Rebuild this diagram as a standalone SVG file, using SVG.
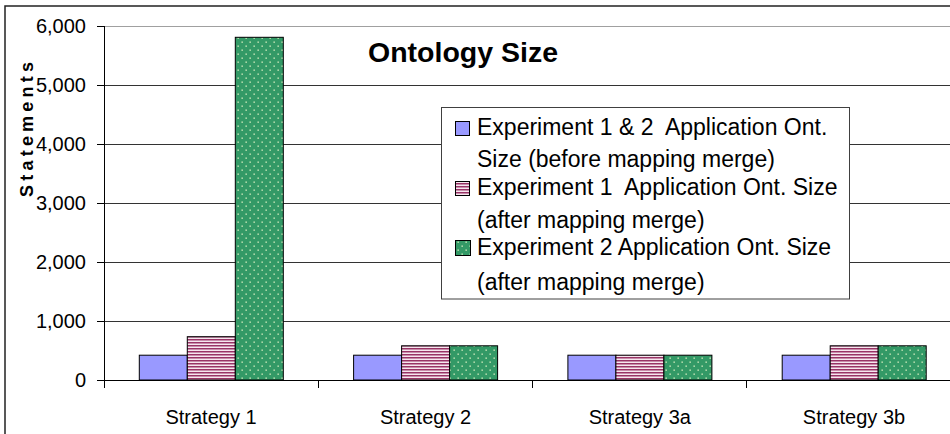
<svg xmlns="http://www.w3.org/2000/svg" width="950" height="434" viewBox="0 0 950 434">
<defs>
<pattern id="stripes" patternUnits="userSpaceOnUse" width="6" height="3">
<rect width="6" height="3" fill="#f6e6ee"/>
<rect width="6" height="1.5" fill="#993366"/>
</pattern>
<pattern id="dots" patternUnits="userSpaceOnUse" width="8" height="8">
<rect width="8" height="8" fill="#339966"/>
<rect x="1.5" y="1.5" width="1.3" height="1.3" fill="#e6f7c8"/>
<rect x="5.5" y="5.5" width="1.3" height="1.3" fill="#e6f7c8"/>
</pattern>
<style>
text{font-family:"Liberation Sans",Arial,sans-serif;fill:#000}
.ax{font-size:20px;text-anchor:end}
.cat{font-size:20px;text-anchor:middle}
.leg{font-size:23px;white-space:pre}
.grid{stroke:#333;stroke-width:1}
.blue{fill:#9999ff;stroke:#000;stroke-width:1}
.pink{fill:url(#stripes);stroke:#000;stroke-width:1}
.green{fill:url(#dots);stroke:#000;stroke-width:1}
</style>
</defs>
<rect width="950" height="434" fill="#fff"/>
<rect x="5" y="6" width="960" height="440" fill="none" stroke="#222" stroke-width="1.5"/>

<g id="gridlines">
<line x1="104" y1="26.5" x2="950" y2="26.5" stroke="#a0a0a0"/>
<line class="grid" x1="104" y1="85.5" x2="950" y2="85.5"/>
<line class="grid" x1="104" y1="144.5" x2="950" y2="144.5"/>
<line class="grid" x1="104" y1="203.5" x2="950" y2="203.5"/>
<line class="grid" x1="104" y1="262.5" x2="950" y2="262.5"/>
<line class="grid" x1="104" y1="321.5" x2="950" y2="321.5"/>
</g>

<g id="title"><text x="368" y="62" font-size="28.5" font-weight="bold">Ontology Size</text></g>

<g id="bars">
<rect class="blue" x="139.3" y="355.2" width="48" height="24.8"/>
<rect class="pink" x="187.3" y="336.7" width="48" height="43.3"/>
<rect class="green" x="235.3" y="37.3" width="48" height="342.7"/>

<rect class="blue" x="353.6" y="355.2" width="48" height="24.8"/>
<rect class="pink" x="401.6" y="345.8" width="48" height="34.2"/>
<rect class="green" x="449.6" y="345.8" width="48" height="34.2"/>

<rect class="blue" x="567.9" y="355.2" width="48" height="24.8"/>
<rect class="pink" x="615.9" y="355.2" width="48" height="24.8"/>
<rect class="green" x="663.9" y="355.2" width="48" height="24.8"/>

<rect class="blue" x="782.2" y="355.2" width="48" height="24.8"/>
<rect class="pink" x="830.2" y="345.8" width="48" height="34.2"/>
<rect class="green" x="878.2" y="345.8" width="48" height="34.2"/>
</g>

<g id="axes" stroke="#000" stroke-width="1">
<line x1="104.5" y1="26" x2="104.5" y2="388"/>
<line x1="104" y1="380.5" x2="950" y2="380.5"/>
<line x1="97" y1="26.5" x2="104" y2="26.5"/>
<line x1="97" y1="85.5" x2="104" y2="85.5"/>
<line x1="97" y1="144.5" x2="104" y2="144.5"/>
<line x1="97" y1="203.5" x2="104" y2="203.5"/>
<line x1="97" y1="262.5" x2="104" y2="262.5"/>
<line x1="97" y1="321.5" x2="104" y2="321.5"/>
<line x1="97" y1="380.5" x2="104" y2="380.5"/>
<line x1="318.5" y1="380" x2="318.5" y2="388"/>
<line x1="532.5" y1="380" x2="532.5" y2="388"/>
<line x1="746.5" y1="380" x2="746.5" y2="388"/>
</g>

<g id="y-labels">
<text class="ax" x="86" y="33">6,000</text>
<text class="ax" x="86" y="92">5,000</text>
<text class="ax" x="86" y="151">4,000</text>
<text class="ax" x="86" y="210">3,000</text>
<text class="ax" x="86" y="269">2,000</text>
<text class="ax" x="86" y="328">1,000</text>
<text class="ax" x="86" y="387">0</text>
<text transform="translate(33,129.5) rotate(-90)" font-size="18" font-weight="bold" text-anchor="middle" textLength="135" lengthAdjust="spacing">Statements</text>
</g>

<g id="x-labels">
<text class="cat" x="211" y="424">Strategy 1</text>
<text class="cat" x="425.5" y="424">Strategy 2</text>
<text class="cat" x="639.8" y="424">Strategy 3a</text>
<text class="cat" x="854" y="424">Strategy 3b</text>
</g>

<g id="legend">
<rect x="441.5" y="107.5" width="408" height="191.5" fill="#fff" stroke="#404040" stroke-width="1"/>
<rect class="blue" x="455.5" y="121.5" width="14" height="14"/>
<text class="leg" x="477" y="135" xml:space="preserve">Experiment 1 &amp; 2  Application Ont.</text>
<text class="leg" x="477" y="167">Size (before mapping merge)</text>
<rect class="pink" x="455.5" y="181.5" width="14" height="14"/>
<text class="leg" x="477" y="195" xml:space="preserve">Experiment 1  Application Ont. Size</text>
<text class="leg" x="477" y="228">(after mapping merge)</text>
<rect class="green" x="455.5" y="240.5" width="15" height="15"/>
<text class="leg" x="477" y="255">Experiment 2 Application Ont. Size</text>
<text class="leg" x="477" y="290">(after mapping merge)</text>
</g>
</svg>
